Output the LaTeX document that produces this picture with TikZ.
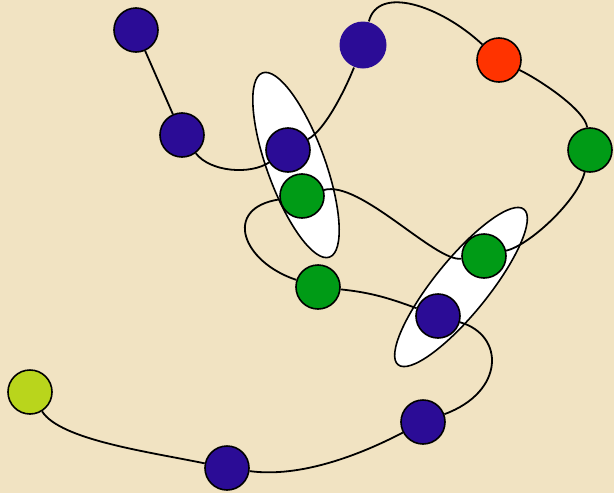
\documentclass[tikz,border=0pt]{standalone}
\definecolor{parchment}{RGB}{241,227,194}
\definecolor{atomblue}{RGB}{43,12,150}
\definecolor{atomgreen}{RGB}{0,155,22}
\definecolor{atomred}{RGB}{255,51,0}
\definecolor{atomlime}{RGB}{185,213,28}
\usetikzlibrary{shapes.geometric}

\begin{document}
\begin{tikzpicture}[
        x=1pt, y=1pt,
        atom/.style={circle, draw=black, line width=1.6pt, minimum size=44pt, inner sep=0pt},
        pair/.style={ellipse, draw=black, fill=white, line width=1.6pt, inner sep=0pt},
        chain/.style={line width=1.8pt}
    ]
        \fill[parchment] (0,0) rectangle (614,-493);
        \useasboundingbox (0,0) rectangle (614,-493);

        % Paired atoms
        \node[pair, minimum width=196pt, minimum height=58pt, rotate=-70] (P1) at (296,-165) {};
        \node[pair, minimum width=200pt, minimum height=54pt, rotate=51] (P2) at (461,-287) {};

        % Atoms along the chain
        \node[atom, fill=atomblue] (a1) at (136,-30) {};
        \node[atom, fill=atomblue] (a2) at (182,-135) {};
        \node[atom, fill=atomblue] (a3) at (288,-150) {};
        \node[atom, fill=atomblue, draw=none, minimum size=47pt] (a4) at (363,-45) {};
        \node[atom, fill=atomred] (a5) at (499,-60) {};
        \node[atom, fill=atomgreen] (a6) at (590,-150) {};
        \node[atom, fill=atomgreen] (a7) at (484,-256) {};
        \node[atom, fill=atomgreen] (a8) at (302,-196) {};
        \node[atom, fill=atomgreen] (a9) at (318,-287) {};
        \node[atom, fill=atomblue] (a10) at (438,-316) {};
        \node[atom, fill=atomblue] (a11) at (423,-422) {};
        \node[atom, fill=atomblue] (a12) at (227,-468) {};
        \node[atom, fill=atomlime] (a13) at (30,-392) {};

        \draw[chain] (a1) -- (a2);
        \draw[chain] (a2) .. controls (210,-172) and (250,-175) .. (a3);
        \draw[chain] (a3) .. controls (325,-130) and (345,-90) .. (a4);
        \draw[chain] (a4) .. controls (378,15) and (440,-5) .. (a5);
        \draw[chain] (a5) .. controls (540,-80) and (585,-110) .. (a6);
        \draw[chain] (a6) .. controls (578,-200) and (530,-245) .. (a7);
        \draw[chain] (a7) .. controls (435,-262) and (360,-180) .. (a8);
        \draw[chain] (a8) .. controls (222,-208) and (242,-262) .. (a9);
        \draw[chain] (a9) to[out=-6, in=160] (a10);
        \draw[chain] (a10) .. controls (505,-335) and (505,-392) .. (a11);
        \draw[chain] (a11) .. controls (360,-455) and (300,-478) .. (a12);
        \draw[chain] (a12) .. controls (150,-452) and (60,-440) .. (a13);
    \end{tikzpicture}
\end{document}
